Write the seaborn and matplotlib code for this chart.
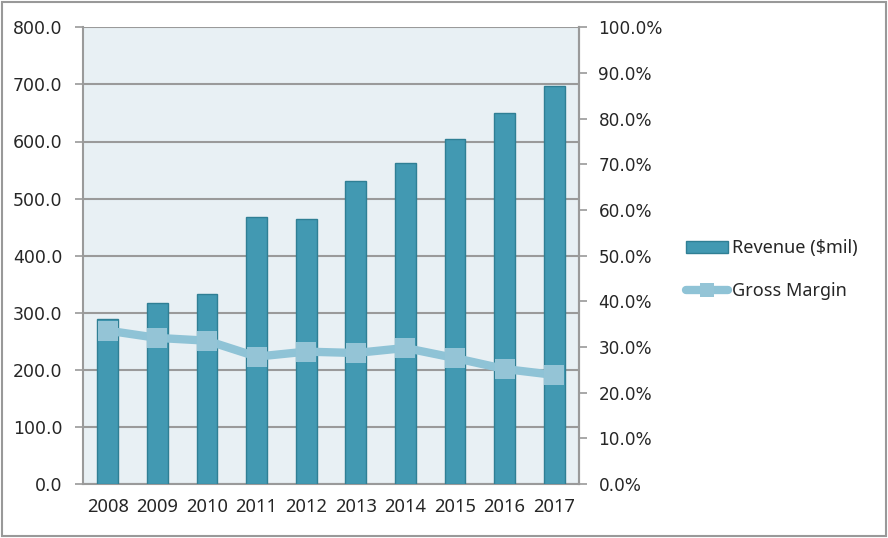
import numpy as np
import pandas as pd
import matplotlib
matplotlib.use("Agg")
import matplotlib.pyplot as plt
from matplotlib.patches import Rectangle
from matplotlib.lines import Line2D
from matplotlib.ticker import FuncFormatter, MultipleLocator, FixedLocator
import seaborn as sns

#%% data
years = ["2008", "2009", "2010", "2011", "2012", "2013", "2014", "2015", "2016", "2017"]
revenue = [289, 318, 333, 468, 464, 530, 563, 604, 650, 697]
gross_margin = [33.6, 32.0, 31.4, 27.9, 29.0, 28.7, 29.8, 27.6, 25.2, 23.9]

df = pd.DataFrame({"Year": years, "Revenue": revenue, "Margin": gross_margin})
df["pos"] = np.arange(len(df))

bar_color = "#4299b2"
bar_edge = "#2f7f94"
line_color = "#8fc3d6"
grid_color = "#9a9a9a"

sns.set_style("white")
plt.rcParams["font.family"] = ["DejaVu Sans"]

W, H = 888, 538
fig = plt.figure(figsize=(W / 100, H / 100), dpi=100)
ax = fig.add_axes([83 / W, (H - 484.1) / H, 496 / W, (484.1 - 27.3) / H])
ax.set_facecolor("#e8f0f4")

#%% bars
sns.barplot(data=df, x="Year", y="Revenue", ax=ax, color=bar_color,
            width=0.42, edgecolor=bar_edge, linewidth=1.0, saturation=1, zorder=3)

ax.set_ylim(0, 800)
ax.set_xlim(-0.5, len(years) - 0.5)
ax.yaxis.set_major_locator(MultipleLocator(100))
ax.yaxis.set_major_formatter(FuncFormatter(lambda v, _: f"{v:.1f}"))
ax.grid(axis="y", color=grid_color, linewidth=1.5, zorder=0)
ax.set_axisbelow(True)
ax.set_xlabel("")
ax.set_ylabel("")

# x ticks at category boundaries, labels at centres
ax.xaxis.set_major_locator(FixedLocator(np.arange(-0.5, len(years), 1.0)))
ax.xaxis.set_major_formatter(FuncFormatter(lambda v, _: ""))
ax.set_xticks(df["pos"], minor=True)
ax.set_xticklabels(years, minor=True, fontsize=13.2, family="Noto Sans")
ax.tick_params(axis="x", which="major", length=6, width=1.2, color=grid_color, direction="out")
ax.tick_params(axis="x", which="minor", length=0, pad=10)
ax.tick_params(axis="y", length=6, width=1.2, color=grid_color, direction="out",
               labelsize=12.5, pad=9)

for side in ["left", "bottom", "right"]:
    ax.spines[side].set_color(grid_color)
    ax.spines[side].set_linewidth(1.5)
ax.spines["top"].set_visible(False)

#%% line on right axis
ax2 = ax.twinx()
sns.lineplot(data=df, x="pos", y="Margin", ax=ax2, color=line_color, linewidth=6,
             marker="s", markersize=14, markeredgewidth=0, markerfacecolor="#94c4d6",
             zorder=4)
ax2.set_ylim(0, 100)
ax2.set_xlim(-0.5, len(years) - 0.5)
ax2.yaxis.set_major_locator(MultipleLocator(10))
ax2.yaxis.set_major_formatter(FuncFormatter(lambda v, _: f"{v:.1f}%"))
ax2.tick_params(axis="y", length=6, width=1.2, color=grid_color, direction="out",
                labelsize=12.2, pad=8)
ax2.set_ylabel("")
ax2.set_xlabel("")
for side in ["left", "bottom", "top"]:
    ax2.spines[side].set_visible(False)
ax2.spines["right"].set_color(grid_color)
ax2.spines["right"].set_linewidth(1.5)

#%% legend
handles = [
    Rectangle((0, 0), 1, 1, facecolor=bar_color, edgecolor=bar_edge, linewidth=1.0),
    Line2D([], [], color=line_color, linewidth=6, marker="s", markersize=9.5,
           markeredgewidth=0, markerfacecolor="#94c4d6"),
]
fig.legend(handles, ["Revenue ($mil)", "Gross Margin"],
           loc="center left", bbox_to_anchor=(677 / W, 1 - 269.5 / H),
           frameon=False, prop={"family": "Noto Sans", "size": 13},
           borderpad=0, handlelength=2.35, handleheight=0.65, handletextpad=0.2,
           labelspacing=1.35)

# outer border
fig.patches.append(Rectangle((2 / W, 2 / H), (W - 4) / W, (H - 4) / H,
                             transform=fig.transFigure, fill=False,
                             edgecolor="#999999", linewidth=1.5))

fig.savefig("out.png", dpi=100)
